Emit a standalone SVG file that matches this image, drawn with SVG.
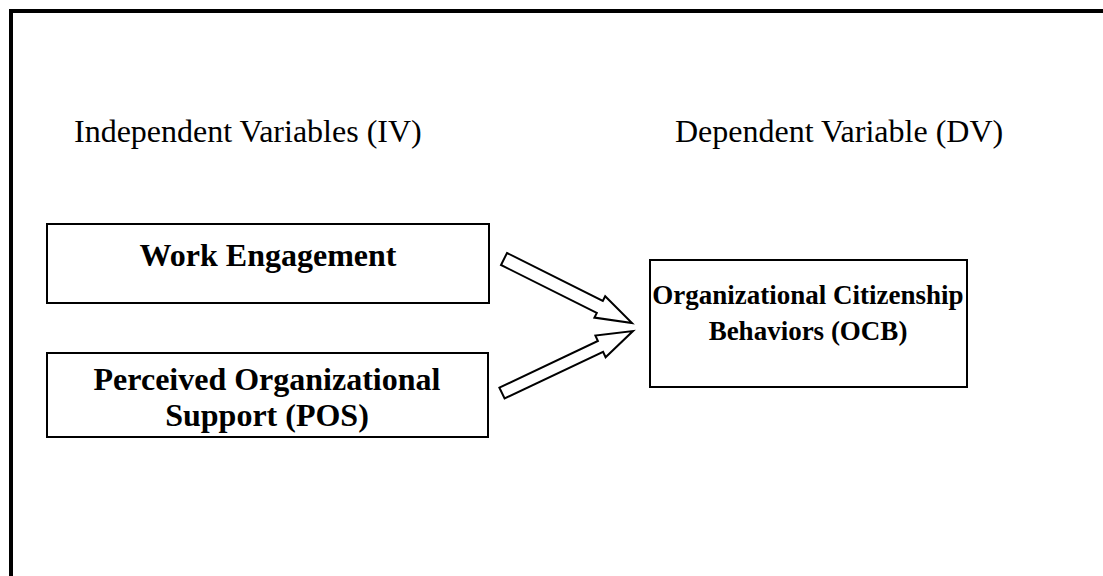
<svg xmlns="http://www.w3.org/2000/svg" width="1103" height="576" viewBox="0 0 1103 576">
<style>
.frame{fill:none;stroke:#000;stroke-width:4}
.box{fill:#fff;stroke:#000;stroke-width:2}
.arrow{fill:#fff;stroke:#000;stroke-width:2;stroke-linejoin:miter}
.hdr{font-family:"Liberation Serif","Times New Roman",serif;font-size:32px;fill:#000}
.lbl{font-family:"Liberation Serif","Times New Roman",serif;font-size:32px;font-weight:bold;fill:#000;text-anchor:middle}
.lbl2{font-size:27px}
</style>
<rect width="1103" height="576" fill="#fff"/>
<path class="frame" d="M11,590 V11 H1115"/>
<text class="hdr" x="74" y="142">Independent Variables (IV)</text>
<text class="hdr" x="675" y="142">Dependent Variable (DV)</text>
<g id="node-we">
<rect class="box" x="47" y="224" width="442" height="79"/>
<text class="lbl" x="268" y="266">Work Engagement</text>
</g>
<g id="node-pos">
<rect class="box" x="47" y="353" width="441" height="84"/>
<text class="lbl" x="267" y="390">Perceived Organizational</text>
<text class="lbl" x="267" y="426">Support (POS)</text>
</g>
<g id="node-ocb">
<rect class="box" x="650" y="260" width="317" height="127"/>
<text class="lbl lbl2" x="808" y="304">Organizational Citizenship</text>
<text class="lbl lbl2" x="808" y="340">Behaviors (OCB)</text>
</g>
<g id="connectors">
<polygon class="arrow" points="507,253 602.8,300.9 605.2,296.2 632,323 594.4,317.6 596.8,312.9 501,265"/>
<polygon class="arrow" points="499.4,387.6 597.9,341 595.4,335.6 633,331 605.6,357.2 603.1,351.8 504.6,398.4"/>
</g>
</svg>
